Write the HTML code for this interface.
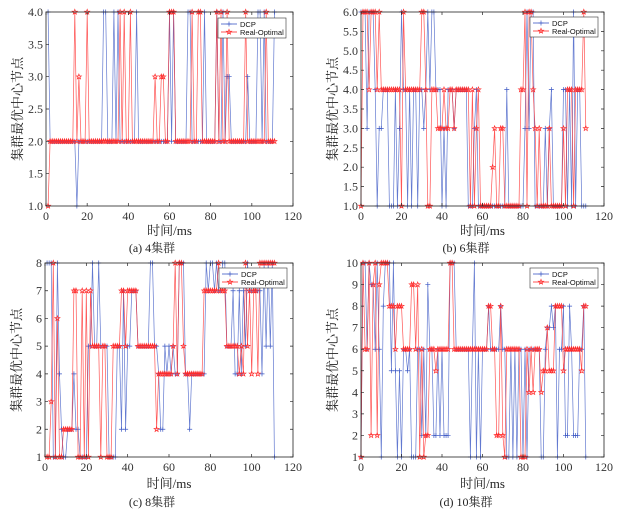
<!DOCTYPE html>
<html><head><meta charset="utf-8"><style>
body{margin:0;background:#fff}
svg{display:block;font-family:"Liberation Serif","Noto Serif CJK SC",serif}
</style></head><body>
<svg id="fig" width="622" height="509" viewBox="0 0 622 509" xmlns="http://www.w3.org/2000/svg"></svg>
<script>
const xTicks=[0,20,40,60,80,100,120];
const aReal=[1,2,2,2,2,2,2,2,2,2, 2,2,2,4,2,3,2,2,2,4, 2,2,2,2,2,2,2,2,2,2, 2,2,2,2,2,4,2,4,2,2, 4,2,2,2,2,2,2,2,2,2, 2,2,3,2,2,3,3,2,2,4, 4,4,2,2,2,2,2,2,2,2, 4,2,2,4,4,2,2,2,2,2, 2,2,4,2,4,2,2,4,2,2, 2,2,2,2,2,2,4,2,2,2, 2,2,2,2,2,2,4,2,2,2,2];
const aDcp=[4,2,2,2,2,2,2,2,2,2, 2,2,2,2,1,2,2,2,2,2, 2,2,2,2,2,2,2,4,4,2, 2,2,4,2,4,2,2,2,2,2, 2,2,2,4,2,2,2,2,2,2, 2,2,2,2,2,2,2,2,2,4, 2,4,2,2,2,2,2,2,4,4, 2,2,2,2,2,2,4,2,2,2, 2,2,4,2,2,4,2,3,3,2, 2,2,2,2,2,2,2,3,2,2, 2,2,4,4,2,4,2,2,2,2,4];
const bReal=[1,6,6,6,4,6,6,6,4,6, 4,4,4,4,4,4,4,4,4,4, 1,6,4,4,4,4,4,4,4,4, 6,6,4,1,1,4,4,4,3,3, 3,4,3,3,4,4,3,4,4,4, 4,4,4,4,1,4,1,3,4,1, 1,1,1,1,1,2,3,1,1,3, 3,1,1,1,1,1,1,1,1,4, 4,6,1,6,6,4,3,1,3,1, 1,1,1,3,1,1,1,1,1,1, 3,1,4,4,4,1,4,4,4,4,6,3];
const bDcp=[6,6,6,3,6,6,6,4,1,3, 3,4,4,4,1,1,1,4,1,3, 6,4,4,1,4,1,4,4,1,4, 4,3,4,6,4,6,6,4,4,4, 1,3,1,4,4,4,3,4,4,4, 4,4,4,1,1,1,3,4,1,1, 1,1,1,1,1,1,1,1,1,1, 1,1,4,1,1,1,1,1,1,1, 1,3,6,3,6,6,1,1,1,1, 1,3,1,3,4,1,1,1,1,1, 4,4,1,4,1,6,1,4,4,1,1,1];
const cReal=[1,1,3,8,1,6,1,1,2,2, 2,2,2,7,7,1,1,7,1,7, 1,7,5,5,5,5,1,5,5,1, 1,1,5,5,5,5,7,7,5,7, 7,7,7,7,5,5,5,5,5,5, 5,5,5,2,4,4,4,4,4,4, 4,5,8,4,8,8,5,4,4,4, 4,4,4,4,4,4,7,7,7,7, 7,7,7,8,7,7,7,5,5,5, 5,5,5,4,5,4,8,5,7,4, 7,7,4,8,8,8,8,8,8,8,8];
const cDcp=[8,8,8,1,1,8,4,2,1,1, 2,2,2,4,2,2,1,1,1,1, 5,5,8,5,5,8,5,5,5,5, 1,1,1,1,5,5,2,7,2,5, 5,7,7,7,5,5,5,5,5,5, 8,8,5,5,4,2,2,5,4,5, 4,5,4,4,8,8,8,4,4,2, 4,4,4,4,4,4,4,8,7,8, 8,7,8,7,7,8,8,5,5,5, 7,4,4,7,4,7,5,8,7,7, 7,7,7,7,4,8,5,8,5,8,1];
const dReal=[1,10,6,6,10,2,9,10,2,9, 10,10,10,10,8,8,8,6,8,8, 8,6,6,6,6,9,9,6,9,1, 6,1,2,2,6,6,6,5,6,6, 6,6,6,6,10,10,6,6,6,6, 6,6,6,6,6,6,6,6,6,6, 6,6,6,8,8,6,6,2,2,8, 2,1,6,6,6,6,6,6,6,1, 1,1,6,4,6,4,6,6,6,4, 5,5,7,5,5,5,8,8,8,8, 5,6,6,6,6,6,6,6,6,5,8,8];
const dDcp=[1,10,10,6,10,9,9,6,10,6, 1,8,10,10,10,5,10,5,1,5, 1,6,6,5,6,1,1,1,6,6, 2,6,2,9,6,6,2,2,6,2, 6,2,2,2,10,10,10,6,6,6, 6,6,6,6,1,6,10,1,6,1, 6,6,6,8,6,6,6,6,6,8, 6,6,1,1,6,1,6,1,6,6, 1,6,1,6,6,6,6,6,6,1, 1,6,7,7,8,7,8,1,6,6, 8,2,2,8,6,2,2,2,6,6,8,1];
const aTicks=[1.0,1.5,2.0,2.5,3.0,3.5,4.0];
const bTicks=[1.0,1.5,2.0,2.5,3.0,3.5,4.0,4.5,5.0,5.5,6.0];
const cTicks=[1,2,3,4,5,6,7,8];
const dTicks=[1,2,3,4,5,6,7,8,9,10];

const NS="http://www.w3.org/2000/svg";
const svg=document.getElementById('fig');
function mk(tag,attrs,parent){const e=document.createElementNS(NS,tag);for(const k in attrs)e.setAttribute(k,attrs[k]);(parent||svg).appendChild(e);return e;}
const BLUE="#3b57c4",RED="#ff2a2a";
const panels=[
 {id:'a',x0:46,x1:293,yt:12,yb:206,ymin:1,ymax:4,ticks:aTicks,dec:1,real:aReal,dcp:aDcp,start:1,cap:'(a) 4集群',capx:152,capy:252,xl:235,leg:[218,18]},
 {id:'b',x0:361,x1:604,yt:12,yb:206,ymin:1,ymax:6,ticks:bTicks,dec:1,real:bReal,dcp:bDcp,start:0,cap:'(b) 6集群',capx:466,capy:252,xl:235,leg:[530,17]},
 {id:'c',x0:45,x1:293,yt:263,yb:457,ymin:1,ymax:8,ticks:cTicks,dec:0,real:cReal,dcp:cDcp,start:1,cap:'(c) 8集群',capx:152,capy:506,xl:488,leg:[219,268]},
 {id:'d',x0:361,x1:604,yt:263,yb:457,ymin:1,ymax:10,ticks:dTicks,dec:0,real:dReal,dcp:dDcp,start:0,cap:'(d) 10集群',capx:466,capy:506,xl:488,leg:[530,268]}
];
function star(g,cx,cy,r){let p=[];for(let i=0;i<10;i++){const a=-Math.PI/2+i*Math.PI/5;const rr=i%2?r*0.42:r;p.push((cx+rr*Math.cos(a)).toFixed(1)+','+(cy+rr*Math.sin(a)).toFixed(1));}
 const s=mk('polygon',{points:p.join(' '),fill:'none',stroke:RED,'stroke-width':0.7},g);return s;}
function plus(g,cx,cy,r){return mk('path',{d:`M${cx-r},${cy}H${cx+r}M${cx},${cy-r}V${cy+r}`,stroke:BLUE,'stroke-width':0.7},g);}
panels.forEach(P=>{
 const g=mk('g',{});
 
 
 const sx=v=>P.x0+(v-0)/(120)*(P.x1-P.x0);
 const sy=v=>P.yb-(v-P.ymin)/(P.ymax-P.ymin)*(P.yb-P.yt);
 const dg=mk('g',{},g);
 const dp=P.dcp.map((v,i)=>sx(P.start+i).toFixed(1)+','+sy(v).toFixed(1)).join(' ');
 mk('polyline',{points:dp,fill:'none',stroke:BLUE,'stroke-width':0.7,'stroke-opacity':0.8},dg);
 P.dcp.forEach((v,i)=>{const m=plus(dg,sx(P.start+i),sy(v),2.5);});
 const rg=mk('g',{},g);
 const rp=P.real.map((v,i)=>sx(P.start+i).toFixed(1)+','+sy(v).toFixed(1)).join(' ');
 mk('polyline',{points:rp,fill:'none',stroke:RED,'stroke-width':0.7,'stroke-opacity':0.8},rg);
 P.real.forEach((v,i)=>{const m=star(rg,sx(P.start+i),sy(v),2.6);});
 const box=mk('rect',{x:P.x0,y:P.yt,width:P.x1-P.x0,height:P.yb-P.yt,fill:'none',stroke:'#222','stroke-width':0.8},g);
 
 xTicks.forEach(t=>{const x=sx(t);mk('path',{d:`M${x},${P.yb}v-3M${x},${P.yt}v3`,stroke:'#222','stroke-width':0.7},g);
  const tx=mk('text',{x:x,y:P.yb+14,'font-size':12,'text-anchor':'middle',fill:'#333'},g);tx.textContent=t;
  });
 P.ticks.forEach(t=>{const y=sy(t);mk('path',{d:`M${P.x0},${y}h3M${P.x1},${y}h-3`,stroke:'#222','stroke-width':0.7},g);
  const tx=mk('text',{x:P.x0-3,y:y+4,'font-size':12,'text-anchor':'end',fill:'#333'},g);tx.textContent=t.toFixed(P.dec);
  });
 const xt=mk('text',{x:(P.x0+P.x1)/2,y:P.xl,'font-size':13,'text-anchor':'middle',fill:'#222'},g);xt.textContent='时间/ms';
 
 const ycx=P.x0-24,ycy=(P.yt+P.yb)/2;
 const yt=mk('text',{x:ycx,y:ycy,'font-size':13,'text-anchor':'middle',fill:'#222','font-family':'"Noto Serif CJK SC","Noto Sans CJK SC",serif',transform:`rotate(-90 ${ycx} ${ycy})`},g);yt.textContent='集群最优中心节点';
 
 const cp=mk('text',{x:P.capx,y:P.capy,'font-size':12,'text-anchor':'middle',fill:'#222'},g);cp.textContent=P.cap;
 
 const [lx,ly]=P.leg;
 const lg=mk('g',{},g);
 mk('rect',{x:lx,y:ly,width:68,height:20,fill:'#fff',stroke:'#333','stroke-width':0.6},lg);
 mk('path',{d:`M${lx+3},${ly+6}h16`,stroke:BLUE,'stroke-width':0.8},lg);plus(lg,lx+11,ly+6,2.5);
 mk('path',{d:`M${lx+3},${ly+14}h16`,stroke:RED,'stroke-width':0.8},lg);star(lg,lx+11,ly+14,2.6);
 const l1=mk('text',{x:lx+22,y:ly+9,'font-size':7.5,'font-family':'"Liberation Sans",sans-serif',fill:'#111'},lg);l1.textContent='DCP';
 
 const l2=mk('text',{x:lx+22,y:ly+17,'font-size':7.5,'font-family':'"Liberation Sans",sans-serif',fill:'#111'},lg);l2.textContent='Real-Optimal';
 
});
</script>
</body></html>
